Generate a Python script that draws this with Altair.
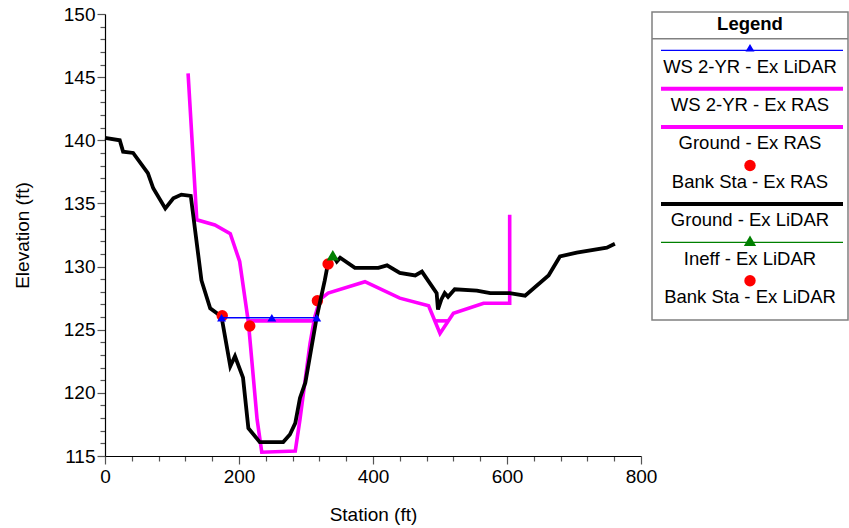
import altair as alt
import pandas as pd

FONT = "Liberation Sans"
TRI = "M0,-0.85L1,0.85L-1,0.85Z"

# ---------------- data ----------------
# Ground - Ex LiDAR
lidar_sta = [0, 22, 27, 42, 64, 72, 90, 102, 114, 128, 144, 157, 167, 174,
             187, 194, 206, 214, 231, 266, 276, 284, 291, 299, 316, 328, 333,
             340, 346, 351, 373, 408, 421, 440, 463, 473, 495, 497, 502, 507,
             512, 522, 555, 575, 604, 627, 662, 679, 704, 749, 761]
lidar_elev = [140.2, 140.0, 139.1, 139.0, 137.4, 136.2, 134.6, 135.4, 135.7, 135.6,
              128.9, 126.7, 126.3, 126.0, 122.1, 122.9, 121.2, 117.2, 116.1, 116.1,
              116.7, 117.6, 119.6, 120.8, 126.0, 128.9, 130.3, 130.9, 130.4, 130.7,
              129.9, 129.9, 130.1, 129.5, 129.3, 129.6, 127.9, 126.6, 127.4, 127.9,
              127.6, 128.2, 128.1, 127.9, 127.9, 127.7, 129.3, 130.8, 131.1, 131.5, 131.8]

# Ground - Ex RAS
ras_sta = [124, 137, 164, 187, 201, 214, 227, 234, 284, 291, 306, 313, 321, 333,
           388, 440, 483, 500, 520, 565, 604, 604]
ras_elev = [145.3, 133.7, 133.3, 132.6, 130.4, 125.6, 117.9, 115.3, 115.4, 117.9,
            123.9, 126.0, 127.4, 127.9, 128.8, 127.5, 126.9, 124.7, 126.3, 127.1,
            127.1, 134.1]

# WS 2-YR - Ex RAS (two wetted reaches)
ws_ras_sta = [214, 313, 494, 512]
ws_ras_elev = [125.7, 125.7, 125.7, 125.7]
ws_ras_seg = ["main", "main", "dip", "dip"]

# WS 2-YR - Ex LiDAR
ws_lidar_sta = [174, 249, 316]
ws_lidar_elev = [125.95, 125.95, 125.95]

# Bank stations
bank_ras_sta = [216, 317]
bank_ras_elev = [125.3, 127.3]
bank_lidar_sta = [175, 333]
bank_lidar_elev = [126.1, 130.2]

# Ineffective flow marker
ineff_sta = [340]
ineff_elev = [130.9]

# axis ticks
x_ticks = list(range(0, 801, 40))
y_ticks = list(range(115, 151))

legend_labels = ["WS 2-YR - Ex LiDAR", "WS 2-YR - Ex RAS", "Ground - Ex RAS",
                 "Bank Sta - Ex RAS", "Ground - Ex LiDAR", "Ineff - Ex LiDAR",
                 "Bank Sta - Ex LiDAR"]

# ---------------- tables ----------------
df_lidar = pd.DataFrame({"sta": lidar_sta, "elev": lidar_elev})
df_ras = pd.DataFrame({"sta": ras_sta, "elev": ras_elev})
df_ws_ras = pd.DataFrame({"sta": ws_ras_sta, "elev": ws_ras_elev, "seg": ws_ras_seg})
df_ws_lidar = pd.DataFrame({"sta": ws_lidar_sta, "elev": ws_lidar_elev})
df_bank_ras = pd.DataFrame({"sta": bank_ras_sta, "elev": bank_ras_elev})
df_bank_lidar = pd.DataFrame({"sta": bank_lidar_sta, "elev": bank_lidar_elev})
df_ineff = pd.DataFrame({"sta": ineff_sta, "elev": ineff_elev})

# ---------------- encodings ----------------
X = alt.X("sta:Q",
          scale=alt.Scale(domain=[0, 800], nice=False, zero=False),
          axis=alt.Axis(values=x_ticks,
                        labelExpr="datum.value % 200 === 0 ? datum.label : ''",
                        title="Station (ft)", grid=False,
                        tickSize={"condition": {"test": "datum.value % 200 === 0", "value": 8}, "value": 5},
                        labelFlush=False, labelOverlap=False, labelPadding=3,
                        titlePadding=19))
Y = alt.Y("elev:Q",
          scale=alt.Scale(domain=[115, 150], nice=False, zero=False),
          axis=alt.Axis(values=y_ticks,
                        labelExpr="datum.value % 5 === 0 ? datum.label : ''",
                        title="Elevation (ft)", grid=False,
                        tickSize={"condition": {"test": "datum.value % 5 === 0", "value": 8}, "value": 5},
                        labelOverlap=False, labelPadding=2, titlePadding=31))

ground_ras = alt.Chart(df_ras).mark_line(color="#ff00ff", strokeWidth=3.6).encode(x=X, y=Y, order="index:Q").transform_window(index="row_number()")
ws_ras = alt.Chart(df_ws_ras).mark_line(color="#ff00ff", strokeWidth=3.6).encode(x=X, y=Y, detail="seg:N")
bank_ras = alt.Chart(df_bank_ras).mark_point(shape="circle", filled=True, size=130, color="#ff0000", opacity=1).encode(x=X, y=Y)
ground_lidar = alt.Chart(df_lidar).mark_line(color="#000000", strokeWidth=3.8).encode(x=X, y=Y, order="index:Q").transform_window(index="row_number()")
bank_lidar = alt.Chart(df_bank_lidar).mark_point(shape="circle", filled=True, size=130, color="#ff0000", opacity=1).encode(x=X, y=Y)
ws_lidar_line = alt.Chart(df_ws_lidar).mark_line(color="#0000ff", strokeWidth=1.4).encode(x=X, y=Y)
ws_lidar_pts = alt.Chart(df_ws_lidar).mark_point(shape=TRI, filled=True, size=80, color="#0000ff", opacity=1).encode(x=X, y=Y)
ineff = alt.Chart(df_ineff).mark_point(shape=TRI, filled=True, size=150, color="#008000", opacity=1).encode(x=X, y=Y)

layers = [ground_ras, ws_ras, bank_ras, ground_lidar, bank_lidar, ws_lidar_line, ws_lidar_pts, ineff]

# ---------------- legend box (drawn at fixed pixel positions) ----------------
one = alt.Data(values=[{}])
BX0, BX1, BY0, BY1 = 547, 743, -2, 306
CX = (BX0 + BX1) / 2
layers.append(alt.Chart(one).mark_rect(fill="white", stroke="#808080", strokeWidth=1.5).encode(
    x=alt.value(BX0), x2=alt.value(BX1), y=alt.value(BY0), y2=alt.value(BY1)))
layers.append(alt.Chart(one).mark_text(text="Legend", font=FONT, fontSize=18.5, fontWeight="bold",
                                       align="center", baseline="middle", color="black").encode(
    x=alt.value(CX), y=alt.value(9.5)))
layers.append(alt.Chart(one).mark_rule(color="#808080", strokeWidth=1.5).encode(
    x=alt.value(BX0), x2=alt.value(BX1), y=alt.value(24.7)))

legend_style = [
    {"color": "#0000ff", "lw": 1.3, "shape": TRI, "size": 80, "dy": -2.5},
    {"color": "#ff00ff", "lw": 4, "shape": None, "size": 0, "dy": 0},
    {"color": "#ff00ff", "lw": 4, "shape": None, "size": 0, "dy": 0},
    {"color": "#ff0000", "lw": 0, "shape": "circle", "size": 130, "dy": 0},
    {"color": "#000000", "lw": 4, "shape": None, "size": 0, "dy": 0},
    {"color": "#008000", "lw": 1.3, "shape": TRI, "size": 150, "dy": -1.5},
    {"color": "#ff0000", "lw": 0, "shape": "circle", "size": 130, "dy": 0},
]
for i, (label, st) in enumerate(zip(legend_labels, legend_style)):
    sym_y = 36.3 + 38.4 * i
    txt_y = 52.5 + 38.4 * i
    if st["lw"] > 0:
        layers.append(alt.Chart(one).mark_rule(color=st["color"], strokeWidth=st["lw"]).encode(
            x=alt.value(556), x2=alt.value(738), y=alt.value(sym_y)))
    if st["shape"]:
        layers.append(alt.Chart(one).mark_point(shape=st["shape"], filled=True, size=st["size"],
                                                color=st["color"], opacity=1).encode(
            x=alt.value(CX), y=alt.value(sym_y + st["dy"])))
    layers.append(alt.Chart(one).mark_text(text=label, font=FONT, fontSize=18.5, align="center",
                                           baseline="middle", color="black").encode(
        x=alt.value(CX), y=alt.value(txt_y)))

chart = alt.layer(*layers).properties(
    width=536, height=442,
    autosize=alt.AutoSizeParams(type="none"),
    padding={"left": 105, "top": 14, "right": 208, "bottom": 72},
    background="white",
).configure_view(stroke=None).configure_axis(
    labelFont=FONT, titleFont=FONT, labelFontSize=19, titleFontSize=19,
    labelColor="black", titleColor="black", titleFontWeight="normal",
    domainColor="black", domainWidth=1.2, tickColor="#555555", tickWidth=1.2,
)

chart.save("out.html", embed_options={"renderer": "svg", "actions": False})
